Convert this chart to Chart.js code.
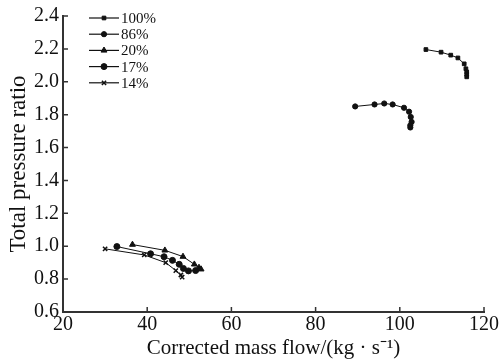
<!DOCTYPE html>
<html lang="en">
<head>
    <meta charset="UTF-8">
    <title>Total pressure ratio vs corrected mass flow</title>
    <style>
        html, body { margin: 0; padding: 0; background: #fff; }
        #wrap { width: 504px; height: 361px; position: relative; }
    </style>
</head>
<body>
    <div id="wrap"><canvas id="mapChart"></canvas></div>
    <script src="https://cdn.jsdelivr.net/npm/chart.js"></script>
    <script>
        // speed lines
        const speedLabels = ['100%', '86%', '20%', '17%', '14%'];
        const flow100 = [106.2, 109.8, 112.1, 113.8, 115.3, 115.7, 115.9, 115.9, 115.9];
        const ratio100 = [2.196, 2.180, 2.162, 2.145, 2.109, 2.079, 2.060, 2.045, 2.030];
        const flow86 = [89.4, 94.0, 96.3, 98.3, 101.0, 102.2, 102.6, 102.8, 102.5, 102.5];
        const ratio86 = [1.850, 1.862, 1.868, 1.862, 1.842, 1.818, 1.786, 1.756, 1.735, 1.722];
        const flow20 = [36.5, 44.2, 48.5, 51.2, 52.3, 52.8];
        const ratio20 = [1.010, 0.975, 0.937, 0.890, 0.870, 0.860];
        const flow17 = [32.8, 40.8, 44.0, 46.0, 47.6, 48.6, 49.8, 51.5];
        const ratio17 = [0.998, 0.954, 0.936, 0.914, 0.890, 0.865, 0.850, 0.852];
        const flow14 = [30.0, 39.3, 44.4, 46.8, 48.0, 48.3];
        const ratio14 = [0.984, 0.947, 0.900, 0.852, 0.825, 0.812];
        const xTicks = [20, 40, 60, 80, 100, 120];
        const yTicks = [0.6, 0.8, 1.0, 1.2, 1.4, 1.6, 1.8, 2.0, 2.2, 2.4];

        const markers = ['rect', 'circle', 'triangle', 'circle', 'crossRot'];
        const markerSize = [2.6, 2.6, 3.4, 3.0, 3.0];
        const serif = '"Liberation Serif", "Times New Roman", serif';

        function pts(xs, ys) {
            return xs.map((x, i) => ({ x: x, y: ys[i] }));
        }
        const series = [pts(flow100, ratio100), pts(flow86, ratio86), pts(flow20, ratio20),
                        pts(flow17, ratio17), pts(flow14, ratio14)];

        const datasets = series.map((d, i) => ({
            label: speedLabels[i],
            data: d,
            showLine: true,
            borderColor: '#111',
            backgroundColor: '#111',
            borderWidth: 1,
            pointStyle: markers[i],
            pointRadius: markerSize[i],
            pointBorderWidth: markers[i] === 'crossRot' ? 1.5 : 1,
            tension: 0
        }));

        // ticks drawn on the inside of the axes
        const innerTicks = {
            id: 'innerTicks',
            afterDraw(chart) {
                const ctx = chart.ctx;
                const a = chart.chartArea;
                ctx.save();
                ctx.strokeStyle = '#333';
                ctx.lineWidth = 1.5;
                ctx.beginPath();
                chart.scales.x.ticks.forEach(t => {
                    const px = chart.scales.x.getPixelForValue(t.value);
                    ctx.moveTo(px, a.bottom);
                    ctx.lineTo(px, a.bottom - 5);
                });
                chart.scales.y.ticks.forEach(t => {
                    const py = chart.scales.y.getPixelForValue(t.value);
                    ctx.moveTo(a.left, py);
                    ctx.lineTo(a.left + 5, py);
                });
                ctx.stroke();
                ctx.restore();
            }
        };

        // legend: short line with marker, top left inside the plot
        const lineLegend = {
            id: 'lineLegend',
            afterDraw(chart) {
                const ctx = chart.ctx;
                ctx.save();
                ctx.font = '15px ' + serif;
                ctx.textBaseline = 'middle';
                ctx.fillStyle = '#111';
                speedLabels.forEach((lab, i) => {
                    const y = 18 + i * 16.2;
                    ctx.strokeStyle = '#111';
                    ctx.lineWidth = 1.2;
                    ctx.beginPath();
                    ctx.moveTo(89, y);
                    ctx.lineTo(119, y);
                    ctx.stroke();
                    ctx.lineWidth = markers[i] === 'crossRot' ? 1.5 : 1;
                    Chart.helpers.drawPoint(ctx, {
                        pointStyle: markers[i], radius: markerSize[i], rotation: 0, borderWidth: 1
                    }, 104, y);
                    ctx.fillText(lab, 121, y + 1);
                });
                ctx.restore();
            }
        };

        const ctx = document.getElementById('mapChart').getContext('2d');
        new Chart(ctx, {
            type: 'scatter',
            data: { datasets: datasets },
            plugins: [innerTicks, lineLegend],
            options: {
                responsive: true,
                maintainAspectRatio: false,
                animation: false,
                layout: { padding: { top: 11, right: 20, left: 0, bottom: 0 } },
                plugins: { legend: { display: false }, tooltip: { enabled: false } },
                scales: {
                    x: {
                        type: 'linear',
                        min: 20, max: 120,
                        afterBuildTicks: s => { s.ticks = xTicks.map(v => ({ value: v })); },
                        afterFit: s => { s.height = 49; },
                        border: { display: true, color: '#333', width: 2 },
                        grid: { display: false, drawTicks: false },
                        ticks: {
                            color: '#111', padding: 1, maxRotation: 0,
                            font: { family: serif, size: 20 }
                        },
                        title: {
                            display: true,
                            text: 'Corrected mass flow/(kg · s⁻¹)',
                            color: '#111',
                            padding: { top: 0, bottom: 0 },
                            font: { family: serif, size: 21 }
                        }
                    },
                    y: {
                        type: 'linear',
                        min: 0.6, max: 2.4,
                        afterBuildTicks: s => { s.ticks = yTicks.map(v => ({ value: v })); },
                        afterFit: s => { s.width = 63; },
                        border: { display: true, color: '#333', width: 2 },
                        grid: { display: false, drawTicks: false },
                        ticks: {
                            color: '#111', padding: 4,
                            font: { family: serif, size: 20 },
                            callback: v => v.toFixed(1)
                        },
                        title: {
                            display: true,
                            text: 'Total pressure ratio',
                            color: '#111',
                            padding: { top: 5, bottom: 0 },
                            font: { family: serif, size: 23 }
                        }
                    }
                }
            }
        });
    </script>
</body>
</html>
